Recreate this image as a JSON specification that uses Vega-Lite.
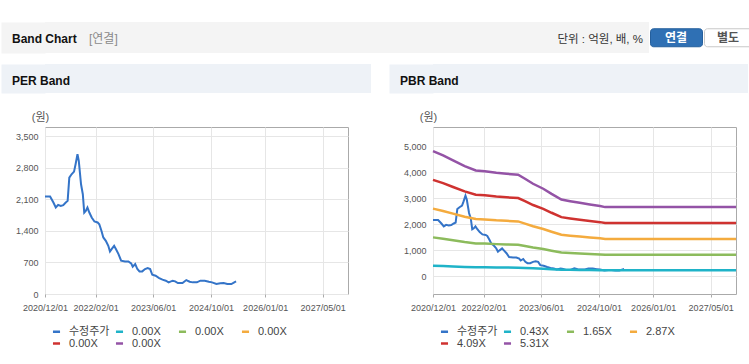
{
  "$schema": "https://vega.github.io/schema/vega-lite/v6.json",
  "background": "white",
  "padding": {"left": 0, "top": 22, "right": 0, "bottom": 0},
  "config": {
    "view": {"stroke": null},
    "font": "Liberation Sans, Noto Sans CJK KR",
    "axis": {"labelFont": "Liberation Sans, Noto Sans CJK KR", "titleFont": "Liberation Sans, Noto Sans CJK KR"},
    "legend": {"labelFont": "Liberation Sans, Noto Sans CJK KR"},
    "title": {"font": "Liberation Sans, Noto Sans CJK KR"}
  },
  "datasets": {
    "price": [
      {"date": "2020-12-01", "value": 2159}, {"date": "2021-01-13", "value": 2159}, {"date": "2021-02-10", "value": 2026},
      {"date": "2021-03-02", "value": 1916}, {"date": "2021-03-22", "value": 1975}, {"date": "2021-04-13", "value": 1953},
      {"date": "2021-05-04", "value": 1967}, {"date": "2021-05-25", "value": 2026}, {"date": "2021-06-10", "value": 2063},
      {"date": "2021-06-24", "value": 2579}, {"date": "2021-07-13", "value": 2652}, {"date": "2021-08-03", "value": 2711},
      {"date": "2021-08-16", "value": 2874}, {"date": "2021-09-01", "value": 3095}, {"date": "2021-09-12", "value": 2947},
      {"date": "2021-10-01", "value": 2431}, {"date": "2021-10-16", "value": 2210}, {"date": "2021-10-28", "value": 1805},
      {"date": "2021-11-10", "value": 1842}, {"date": "2021-11-24", "value": 1916}, {"date": "2021-12-10", "value": 1805},
      {"date": "2021-12-30", "value": 1695}, {"date": "2022-01-22", "value": 1606}, {"date": "2022-02-18", "value": 1584},
      {"date": "2022-03-04", "value": 1547}, {"date": "2022-03-22", "value": 1400}, {"date": "2022-04-07", "value": 1253},
      {"date": "2022-04-28", "value": 1179}, {"date": "2022-05-19", "value": 1068}, {"date": "2022-06-02", "value": 943},
      {"date": "2022-06-16", "value": 995}, {"date": "2022-07-07", "value": 1068}, {"date": "2022-07-22", "value": 995},
      {"date": "2022-08-13", "value": 884}, {"date": "2022-09-04", "value": 737}, {"date": "2022-10-07", "value": 722},
      {"date": "2022-11-04", "value": 722}, {"date": "2022-11-28", "value": 678}, {"date": "2022-12-11", "value": 604},
      {"date": "2023-01-01", "value": 663}, {"date": "2023-01-19", "value": 553}, {"date": "2023-02-06", "value": 501},
      {"date": "2023-03-01", "value": 501}, {"date": "2023-03-25", "value": 553}, {"date": "2023-04-16", "value": 575},
      {"date": "2023-05-07", "value": 553}, {"date": "2023-05-25", "value": 427}, {"date": "2023-06-22", "value": 405},
      {"date": "2023-07-22", "value": 354}, {"date": "2023-08-19", "value": 317}, {"date": "2023-09-16", "value": 295},
      {"date": "2023-10-10", "value": 258}, {"date": "2023-11-13", "value": 295}, {"date": "2023-12-04", "value": 280},
      {"date": "2023-12-27", "value": 243}, {"date": "2024-02-04", "value": 243}, {"date": "2024-03-07", "value": 309},
      {"date": "2024-04-04", "value": 273}, {"date": "2024-05-01", "value": 258}, {"date": "2024-06-04", "value": 258},
      {"date": "2024-07-04", "value": 295}, {"date": "2024-08-10", "value": 295}, {"date": "2024-09-13", "value": 273},
      {"date": "2024-10-10", "value": 258}, {"date": "2024-11-16", "value": 221}, {"date": "2024-12-19", "value": 236},
      {"date": "2025-01-16", "value": 243}, {"date": "2025-02-16", "value": 221}, {"date": "2025-03-22", "value": 221},
      {"date": "2025-04-19", "value": 265}, {"date": "2025-05-01", "value": 280}
    ],
    "bands": [
      {"date": "2020-12-01", "series": "0.43X", "value": 404}, {"date": "2020-12-01", "series": "1.65X", "value": 1493}, {"date": "2020-12-01", "series": "2.87X", "value": 2597}, {"date": "2020-12-01", "series": "4.09X", "value": 3701}, {"date": "2020-12-01", "series": "5.31X", "value": 4806},
      {"date": "2021-02-24", "series": "0.43X", "value": 391}, {"date": "2021-02-24", "series": "1.65X", "value": 1442}, {"date": "2021-02-24", "series": "2.87X", "value": 2508}, {"date": "2021-02-24", "series": "4.09X", "value": 3575}, {"date": "2021-02-24", "series": "5.31X", "value": 4641},
      {"date": "2021-05-19", "series": "0.43X", "value": 375}, {"date": "2021-05-19", "series": "1.65X", "value": 1383}, {"date": "2021-05-19", "series": "2.87X", "value": 2405}, {"date": "2021-05-19", "series": "4.09X", "value": 3427}, {"date": "2021-05-19", "series": "5.31X", "value": 4450},
      {"date": "2021-08-25", "series": "0.43X", "value": 358}, {"date": "2021-08-25", "series": "1.65X", "value": 1315}, {"date": "2021-08-25", "series": "2.87X", "value": 2287}, {"date": "2021-08-25", "series": "4.09X", "value": 3260}, {"date": "2021-08-25", "series": "5.31X", "value": 4232},
      {"date": "2021-11-27", "series": "0.43X", "value": 344}, {"date": "2021-11-27", "series": "1.65X", "value": 1262}, {"date": "2021-11-27", "series": "2.87X", "value": 2196}, {"date": "2021-11-27", "series": "4.09X", "value": 3129}, {"date": "2021-11-27", "series": "5.31X", "value": 4062},
      {"date": "2022-02-11", "series": "0.43X", "value": 342}, {"date": "2022-02-11", "series": "1.65X", "value": 1254}, {"date": "2022-02-11", "series": "2.87X", "value": 2181}, {"date": "2022-02-11", "series": "4.09X", "value": 3108}, {"date": "2022-02-11", "series": "5.31X", "value": 4036},
      {"date": "2022-05-19", "series": "0.43X", "value": 337}, {"date": "2022-05-19", "series": "1.65X", "value": 1234}, {"date": "2022-05-19", "series": "2.87X", "value": 2147}, {"date": "2022-05-19", "series": "4.09X", "value": 3059}, {"date": "2022-05-19", "series": "5.31X", "value": 3972},
      {"date": "2022-08-13", "series": "0.43X", "value": 334}, {"date": "2022-08-13", "series": "1.65X", "value": 1223}, {"date": "2022-08-13", "series": "2.87X", "value": 2127}, {"date": "2022-08-13", "series": "4.09X", "value": 3031}, {"date": "2022-08-13", "series": "5.31X", "value": 3935},
      {"date": "2022-11-19", "series": "0.43X", "value": 331}, {"date": "2022-11-19", "series": "1.65X", "value": 1211}, {"date": "2022-11-19", "series": "2.87X", "value": 2107}, {"date": "2022-11-19", "series": "4.09X", "value": 3002}, {"date": "2022-11-19", "series": "5.31X", "value": 3898},
      {"date": "2023-01-16", "series": "0.43X", "value": 318}, {"date": "2023-01-16", "series": "1.65X", "value": 1163}, {"date": "2023-01-16", "series": "2.87X", "value": 2023}, {"date": "2023-01-16", "series": "4.09X", "value": 2883}, {"date": "2023-01-16", "series": "5.31X", "value": 3744},
      {"date": "2023-03-25", "series": "0.43X", "value": 303}, {"date": "2023-03-25", "series": "1.65X", "value": 1104}, {"date": "2023-03-25", "series": "2.87X", "value": 1920}, {"date": "2023-03-25", "series": "4.09X", "value": 2736}, {"date": "2023-03-25", "series": "5.31X", "value": 3552},
      {"date": "2023-06-19", "series": "0.43X", "value": 287}, {"date": "2023-06-19", "series": "1.65X", "value": 1044}, {"date": "2023-06-19", "series": "2.87X", "value": 1817}, {"date": "2023-06-19", "series": "4.09X", "value": 2589}, {"date": "2023-06-19", "series": "5.31X", "value": 3361},
      {"date": "2023-08-28", "series": "0.43X", "value": 271}, {"date": "2023-08-28", "series": "1.65X", "value": 983}, {"date": "2023-08-28", "series": "2.87X", "value": 1711}, {"date": "2023-08-28", "series": "4.09X", "value": 2438}, {"date": "2023-08-28", "series": "5.31X", "value": 3165},
      {"date": "2023-11-19", "series": "0.43X", "value": 254}, {"date": "2023-11-19", "series": "1.65X", "value": 916}, {"date": "2023-11-19", "series": "2.87X", "value": 1593}, {"date": "2023-11-19", "series": "4.09X", "value": 2270}, {"date": "2023-11-19", "series": "5.31X", "value": 2947},
      {"date": "2024-02-01", "series": "0.43X", "value": 248}, {"date": "2024-02-01", "series": "1.65X", "value": 896}, {"date": "2024-02-01", "series": "2.87X", "value": 1558}, {"date": "2024-02-01", "series": "4.09X", "value": 2221}, {"date": "2024-02-01", "series": "5.31X", "value": 2883},
      {"date": "2024-04-22", "series": "0.43X", "value": 243}, {"date": "2024-04-22", "series": "1.65X", "value": 876}, {"date": "2024-04-22", "series": "2.87X", "value": 1524}, {"date": "2024-04-22", "series": "4.09X", "value": 2172}, {"date": "2024-04-22", "series": "5.31X", "value": 2820},
      {"date": "2024-07-16", "series": "0.43X", "value": 238}, {"date": "2024-07-16", "series": "1.65X", "value": 856}, {"date": "2024-07-16", "series": "2.87X", "value": 1490}, {"date": "2024-07-16", "series": "4.09X", "value": 2123}, {"date": "2024-07-16", "series": "5.31X", "value": 2756},
      {"date": "2024-10-10", "series": "0.43X", "value": 233}, {"date": "2024-10-10", "series": "1.65X", "value": 838}, {"date": "2024-10-10", "series": "2.87X", "value": 1458}, {"date": "2024-10-10", "series": "4.09X", "value": 2078}, {"date": "2024-10-10", "series": "5.31X", "value": 2697},
      {"date": "2024-11-22", "series": "0.43X", "value": 230}, {"date": "2024-11-22", "series": "1.65X", "value": 825}, {"date": "2024-11-22", "series": "2.87X", "value": 1435}, {"date": "2024-11-22", "series": "4.09X", "value": 2045}, {"date": "2024-11-22", "series": "5.31X", "value": 2655},
      {"date": "2027-12-01", "series": "0.43X", "value": 230}, {"date": "2027-12-01", "series": "1.65X", "value": 825}, {"date": "2027-12-01", "series": "2.87X", "value": 1435}, {"date": "2027-12-01", "series": "4.09X", "value": 2045}, {"date": "2027-12-01", "series": "5.31X", "value": 2655}
    ],
    "blank": [],
    "anchor": [{"v": 0}]
  },
  "resolve": {"scale": {"color": "independent"}, "legend": {"color": "independent"}},
  "spacing": 11,
  "vconcat": [
    {
      "hconcat": [
        {"width": 40, "height": 31, "data": {"name": "anchor"}, "mark": {"type": "point", "opacity": 0, "size": 0},
         "encoding": {"y": {"field": "v", "type": "quantitative", "axis": {"title": null, "labels": false, "ticks": false, "grid": false, "domain": true, "domainWidth": 44, "domainColor": "#f4f4f4", "domainCap": "butt", "offset": 22, "minExtent": 0, "maxExtent": 0}}},
         "view": {"fill": "#f4f4f4", "stroke": null},
         "title": {"text": "Band Chart", "anchor": "start", "frame": "group", "offset": -29, "baseline": "middle", "dx": -33, "fontSize": 12, "fontWeight": "bold", "color": "#111111"}},
        {"width": 462, "height": 31, "data": {"name": "blank"}, "mark": {"type": "point"},
         "view": {"fill": "#f4f4f4", "stroke": null},
         "title": {"text": "[연결]", "anchor": "start", "frame": "group", "offset": -29, "baseline": "middle", "dx": 4, "fontSize": 12, "fontWeight": "normal", "color": "#8a8a8a"}},
        {"width": 102, "height": 31, "data": {"name": "blank"}, "mark": {"type": "point"},
         "view": {"fill": "#f4f4f4", "stroke": null},
         "title": {"text": "단위 : 억원, 배, %", "anchor": "end", "frame": "group", "offset": -29, "baseline": "middle", "dx": -6, "fontSize": 11.5, "fontWeight": "normal", "color": "#333333"}},
        {"width": 52, "height": 18, "data": {"name": "blank"}, "mark": {"type": "point"},
         "view": {"fill": "#2f70b4", "stroke": "#255f9c", "cornerRadius": 3},
         "title": {"text": "연결", "anchor": "middle", "frame": "group", "offset": -22, "baseline": "middle", "fontSize": 12, "fontWeight": "bold", "color": "#ffffff"}},
        {"width": 48, "height": 18, "data": {"name": "blank"}, "mark": {"type": "point"},
         "view": {"fill": "#ffffff", "stroke": "#c8c8c8", "cornerRadius": 3},
         "title": {"text": "별도", "anchor": "middle", "frame": "group", "offset": -22, "baseline": "middle", "fontSize": 12, "fontWeight": "bold", "color": "#555555"}}
      ],
      "spacing": 0,
      "center": true
    },
    {
      "resolve": {"scale": {"color": "independent"}, "legend": {"color": "independent"}},
      "spacing": 17,
      "hconcat": [
        {
          "spacing": 17,
          "vconcat": [
            {"width": 326, "height": 29, "data": {"name": "anchor"}, "mark": {"type": "point", "opacity": 0, "size": 0},
             "encoding": {"y": {"field": "v", "type": "quantitative", "axis": {"title": null, "labels": false, "ticks": false, "grid": false, "domain": true, "domainWidth": 44, "domainColor": "#eef2f7", "domainCap": "butt", "offset": 22, "minExtent": 0, "maxExtent": 0}}},
             "view": {"fill": "#eef2f7", "stroke": null},
             "title": {"text": "PER Band", "anchor": "start", "frame": "group", "offset": -29, "baseline": "middle", "dx": -33, "fontSize": 12, "fontWeight": "bold", "color": "#111111"}},
            {
              "width": 303, "height": 167,
              "view": {"stroke": "#aaaaaa"},
              "data": {"name": "price"},
              "mark": {"type": "line", "strokeWidth": 2},
              "encoding": {
                "x": {"field": "date", "type": "temporal",
                      "scale": {"type": "utc", "domain": [{"year": 2020, "month": 12, "date": 1, "utc": true}, {"year": 2027, "month": 12, "date": 1, "utc": true}]},
                      "axis": {"title": null, "values": [{"year": 2020, "month": 12, "date": 1, "utc": true}, {"year": 2022, "month": 2, "date": 1, "utc": true}, {"year": 2023, "month": 6, "date": 1, "utc": true}, {"year": 2024, "month": 10, "date": 1, "utc": true}, {"year": 2026, "month": 1, "date": 1, "utc": true}, {"year": 2027, "month": 5, "date": 1, "utc": true}],
                               "format": "%Y/%m/%d", "grid": true, "gridColor": "#e6e6e6", "domain": false, "ticks": true, "tickSize": 3, "tickColor": "#aaaaaa", "labelPadding": 6, "labelFontSize": 9, "labelColor": "#555555", "labelOverlap": false, "labelFlush": false}},
                "y": {"field": "value", "type": "quantitative",
                      "scale": {"domain": [0, 3700], "nice": false, "zero": false},
                      "axis": {"title": "(원)", "values": [0, 700, 1400, 2100, 2800, 3500], "format": ",d", "grid": true, "gridColor": "#e6e6e6", "domain": false, "ticks": false, "labelPadding": 7, "labelFontSize": 9, "labelColor": "#555555", "labelOverlap": false,
                               "titleAngle": 0, "titleX": -5, "titleY": -10, "titleAlign": "center", "titleBaseline": "middle", "titleFontSize": 11, "titleFontWeight": "normal", "titleColor": "#555555", "minExtent": 44, "maxExtent": 44}},
                "color": {"datum": "수정주가", "type": "nominal",
                          "scale": {"domain": ["수정주가", "p1", "p2", "p3", "p4", "p5"], "range": ["#3474c8", "#1fb3c8", "#8cbb5c", "#f4ab3e", "#cf3230", "#9453a6"]},
                          "legend": {"orient": "bottom", "direction": "horizontal", "columns": 4, "title": null, "symbolType": "stroke", "symbolSize": 50, "symbolStrokeWidth": 2.5,
                                     "labelFontSize": 11, "labelColor": "#444444", "labelOffset": 7, "columnPadding": 0, "rowPadding": 0, "gridAlign": "all", "offset": 7, "padding": 6,
                                     "labelExpr": "datum.label == '수정주가' ? '수정주가' : '0.00X'"}}
              }
            }
          ]
        },
        {
          "spacing": 17,
          "vconcat": [
            {"width": 315, "height": 29, "data": {"name": "anchor"}, "mark": {"type": "point", "opacity": 0, "size": 0},
             "encoding": {"y": {"field": "v", "type": "quantitative", "axis": {"title": null, "labels": false, "ticks": false, "grid": false, "domain": true, "domainWidth": 44, "domainColor": "#eef2f7", "domainCap": "butt", "offset": 22, "minExtent": 0, "maxExtent": 0}}},
             "view": {"fill": "#eef2f7", "stroke": null},
             "title": {"text": "PBR Band", "anchor": "start", "frame": "group", "offset": -29, "baseline": "middle", "dx": -33, "fontSize": 12, "fontWeight": "bold", "color": "#111111"}},
            {
              "width": 303, "height": 167,
              "view": {"stroke": "#aaaaaa"},
              "encoding": {
                "x": {"field": "date", "type": "temporal",
                      "scale": {"type": "utc", "domain": [{"year": 2020, "month": 12, "date": 1, "utc": true}, {"year": 2027, "month": 12, "date": 1, "utc": true}]},
                      "axis": {"title": null, "values": [{"year": 2020, "month": 12, "date": 1, "utc": true}, {"year": 2022, "month": 2, "date": 1, "utc": true}, {"year": 2023, "month": 6, "date": 1, "utc": true}, {"year": 2024, "month": 10, "date": 1, "utc": true}, {"year": 2026, "month": 1, "date": 1, "utc": true}, {"year": 2027, "month": 5, "date": 1, "utc": true}],
                               "format": "%Y/%m/%d", "grid": true, "gridColor": "#e6e6e6", "domain": false, "ticks": true, "tickSize": 3, "tickColor": "#aaaaaa", "labelPadding": 6, "labelFontSize": 9, "labelColor": "#555555", "labelOverlap": false, "labelFlush": false}},
                "y": {"field": "value", "type": "quantitative",
                      "scale": {"domain": [-681, 5731], "nice": false, "zero": false},
                      "axis": {"title": "(원)", "values": [0, 1000, 2000, 3000, 4000, 5000], "format": ",d", "grid": true, "gridColor": "#e6e6e6", "domain": false, "ticks": false, "labelPadding": 7, "labelFontSize": 9, "labelColor": "#555555", "labelOverlap": false,
                               "titleAngle": 0, "titleX": -5, "titleY": -10, "titleAlign": "center", "titleBaseline": "middle", "titleFontSize": 11, "titleFontWeight": "normal", "titleColor": "#555555", "minExtent": 44, "maxExtent": 44}}
              },
              "layer": [
                {
                  "data": {"name": "price"},
                  "mark": {"type": "line", "strokeWidth": 2},
                  "encoding": {
                    "color": {"datum": "수정주가", "type": "nominal",
                              "scale": {"domain": ["수정주가", "0.43X", "1.65X", "2.87X", "4.09X", "5.31X"], "range": ["#3474c8", "#1fb3c8", "#8cbb5c", "#f4ab3e", "#cf3230", "#9453a6"]},
                              "legend": {"orient": "bottom", "direction": "horizontal", "columns": 4, "title": null, "symbolType": "stroke", "symbolSize": 50, "symbolStrokeWidth": 2.5,
                                         "labelFontSize": 11, "labelColor": "#444444", "labelOffset": 7, "columnPadding": 0, "rowPadding": 0, "gridAlign": "all", "offset": 7, "padding": 6}}
                  }
                },
                {
                  "data": {"name": "bands"},
                  "mark": {"type": "line", "strokeWidth": 2.5},
                  "encoding": {
                    "color": {"field": "series", "type": "nominal",
                              "scale": {"domain": ["수정주가", "0.43X", "1.65X", "2.87X", "4.09X", "5.31X"], "range": ["#3474c8", "#1fb3c8", "#8cbb5c", "#f4ab3e", "#cf3230", "#9453a6"]},
                              "legend": {"orient": "bottom", "direction": "horizontal", "columns": 4, "title": null, "symbolType": "stroke", "symbolSize": 50, "symbolStrokeWidth": 2.5,
                                         "labelFontSize": 11, "labelColor": "#444444", "labelOffset": 7, "columnPadding": 0, "rowPadding": 0, "gridAlign": "all", "offset": 7, "padding": 6}}
                  }
                }
              ]
            }
          ]
        }
      ]
    }
  ]
}
